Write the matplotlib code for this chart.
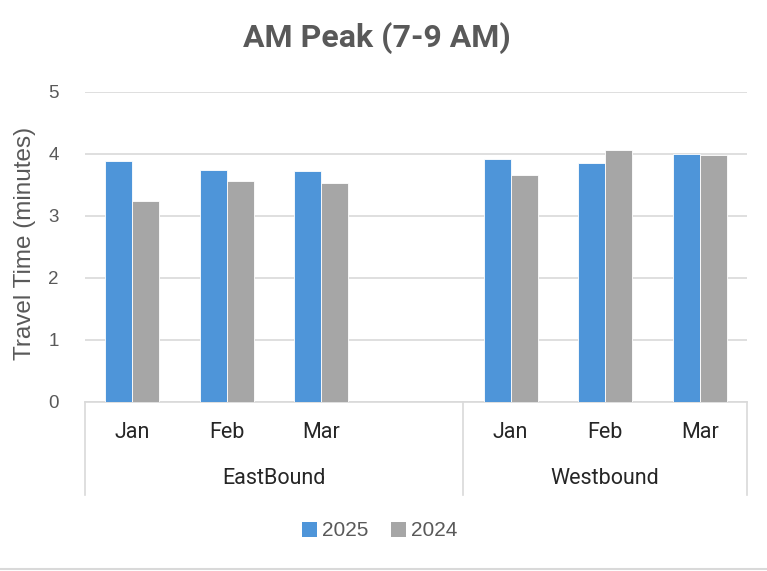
import matplotlib.pyplot as plt
import matplotlib.transforms as mtransforms
from matplotlib.lines import Line2D
from matplotlib.patches import Patch

months = ['Jan', 'Feb', 'Mar']
directions = ['EastBound', 'Westbound']
series_names = ['2025', '2024']
east_2025 = [3.89, 3.74, 3.73]
east_2024 = [3.25, 3.56, 3.54]
west_2025 = [3.92, 3.86, 4.00]
west_2024 = [3.66, 4.06, 3.99]

plt.rcParams['font.family'] = ['Liberation Sans', 'DejaVu Sans']

BLUE = '#4E95D9'
GRAY = '#A6A6A6'
TEXT = '#595959'
DARK = '#262626'
GRID = '#D9D9D9'

fig = plt.figure(figsize=(7.67, 5.71), dpi=100)
ax = fig.add_axes([85 / 767, 1 - 402 / 571, 662 / 767, 310 / 571])

# EastBound has an empty 4th slot in the original sheet
east_x = [0, 1, 2]
west_x = [4, 5, 6]
w = 0.285

for xs, v25, v24 in [(east_x, east_2025, east_2024), (west_x, west_2025, west_2024)]:
    ax.bar([x - w / 2 for x in xs], v25, width=w, color=BLUE, edgecolor='white', linewidth=0.6, zorder=3)
    ax.bar([x + w / 2 for x in xs], v24, width=w, color=GRAY, edgecolor='white', linewidth=0.6, zorder=3)

ax.set_xlim(-0.5, 6.5)
ax.set_ylim(0, 5)
ax.set_yticks(range(6))
ax.yaxis.grid(True, color=GRID, linewidth=1.2, zorder=0)
ax.tick_params(axis='y', length=0, labelsize=13.5, labelcolor=TEXT, pad=19)
ax.tick_params(axis='x', length=0, labelbottom=False)
for s in ['top', 'right', 'left']:
    ax.spines[s].set_visible(False)
ax.spines['bottom'].set_color(GRID)
ax.spines['bottom'].set_linewidth(1.2)

ax.set_ylabel('Travel Time (minutes)', fontsize=17.5, color=TEXT)
ax.yaxis.set_label_coords(-49 / 662, 0.51)

# two-level category axis
trans = mtransforms.blended_transform_factory(ax.transData, ax.transAxes)
for xs in (east_x, west_x):
    for x, m in zip(xs, months):
        ax.text(x, -31 / 310, m, transform=trans, ha='center', va='center', fontsize=15.5,
                family='Roboto', color=DARK)
group_centers = [1.5, 5.0]
for c, d in zip(group_centers, directions):
    ax.text(c, -77 / 310, d, transform=trans, ha='center', va='center', fontsize=15.5,
            family='Roboto', color=DARK)
for sx in [-0.5, 3.5, 6.5]:
    ax.add_line(Line2D([sx, sx], [0, -93 / 310], transform=trans, color=GRID, linewidth=1.2, clip_on=False))

fig.text(377 / 767, 1 - 38 / 571, 'AM Peak (7-9 AM)', ha='center', va='center', fontsize=23,
         fontweight='bold', family='Roboto', color=TEXT)

handles = [Patch(facecolor=BLUE), Patch(facecolor=GRAY)]
fig.legend(handles, series_names, loc='center', bbox_to_anchor=(380 / 767, 1 - 531 / 571), ncol=2, frameon=False,
           fontsize=15, labelcolor=TEXT, handlelength=0.7, handleheight=0.7, handletextpad=0.25, columnspacing=1.1)

fig.add_artist(Line2D([0, 1], [1 - 569 / 571, 1 - 569 / 571], transform=fig.transFigure, color=GRID, linewidth=1.5))

fig.savefig('out.png', dpi=100)
